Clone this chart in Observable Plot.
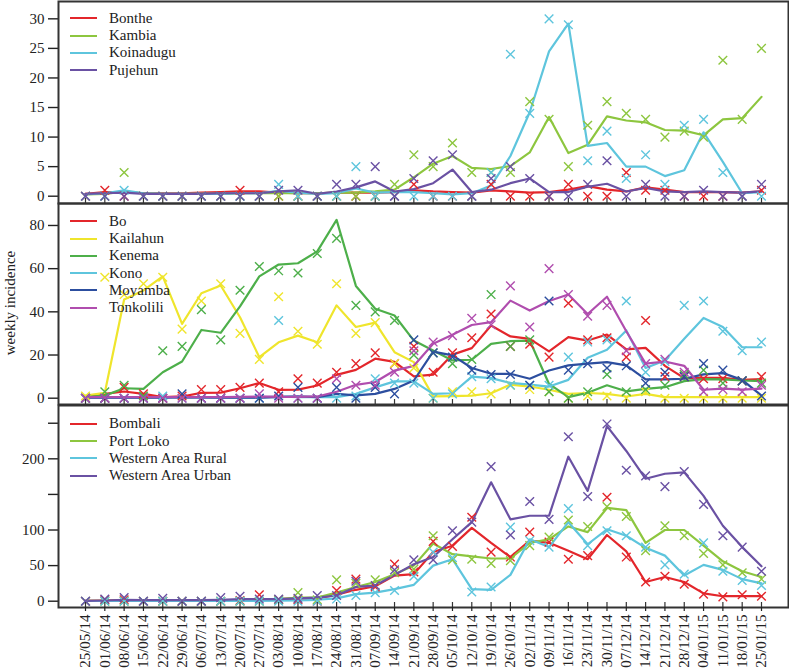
<!DOCTYPE html>
<html><head><meta charset="utf-8">
<script src="https://cdn.jsdelivr.net/npm/d3@7"></script>
<script src="https://cdn.jsdelivr.net/npm/@observablehq/plot@0.6"></script>
<style>
body{margin:0;background:#fff;}
#wrap{position:relative;width:789px;height:668px;overflow:hidden;font-family:"Liberation Serif","DejaVu Serif",serif;color:#222;}
#wrap svg{position:absolute;left:0;overflow:visible;}
.lg{position:absolute;font-size:15px;white-space:nowrap;}
.lg .row{position:absolute;left:0;height:18px;line-height:18px;}
.lg .sw{display:inline-block;width:27px;height:2px;vertical-align:middle;margin-right:12px;position:relative;top:-1px;}
#ylab{position:absolute;font-size:15px;left:10px;top:303px;transform:translate(-50%,-50%) rotate(-90deg);white-space:nowrap;}
</style></head>
<body><div id="wrap"></div>
<script>
const weekLabels = ["25/05/14","01/06/14","08/06/14","15/06/14","22/06/14","29/06/14","06/07/14","13/07/14","20/07/14","27/07/14","03/08/14","10/08/14","17/08/14","24/08/14","31/08/14","07/09/14","14/09/14","21/09/14","28/09/14","05/10/14","12/10/14","19/10/14","26/10/14","02/11/14","09/11/14","16/11/14","23/11/14","30/11/14","07/12/14","14/12/14","21/12/14","28/12/14","04/01/15","11/01/15","18/01/15","25/01/15"];

// Panel 1
const bontheObs = [0,1,0,0,0,0,0,0,1,0, 0,0,0,0,0,0,0,2,0,0, 0,2,0,0,0,2,0,0,4,1, 1,0,0,0,0,1];
const bontheFit = [0.4,0.7,0.7,0.5,0.5,0.5,0.6,0.7,0.8,0.8, 0.6,0.5,0.5,0.6,0.6,0.6,0.7,1.0,0.8,0.7, 0.6,1.0,0.8,0.6,0.7,1.1,1.7,1.1,0.8,1.5, 1.1,0.7,0.7,0.7,0.6,0.8];
const kambiaObs = [0,0,4,0,0,0,0,0,0,0, 0,0,0,0,0,0,2,7,5,9, 4,4,4,16,13,5,12,16,14,13, 10,11,10,23,13,25];
const kambiaFit = [0.3,0.4,0.8,0.5,0.4,0.4,0.4,0.4,0.5,0.5, 0.5,0.5,0.5,0.6,0.6,0.8,1.1,3.2,5.5,6.8, 4.8,4.6,5.1,7.4,13.4,7.3,8.7,13.5,12.8,12.5, 11.2,11.1,10.3,13.0,13.2,16.8];
const koinaduguObs = [0,0,1,0,0,0,0,0,0,0, 2,0,0,0,5,0,0,0,0,0, 0,4,24,14,30,29,6,11,3,7, 2,12,13,4,0,0];
const koinaduguFit = [0.3,0.5,1.0,0.5,0.4,0.4,0.4,0.4,0.5,0.5, 0.9,0.6,0.4,0.5,1.3,0.6,0.7,0.7,0.5,0.3, 0.5,1.8,6.8,14.2,24.5,29.2,8.5,9.0,5.0,5.0, 3.4,4.4,10.8,5.8,0.5,0.7];
const pujehunObs = [0,0,0,0,0,0,0,0,0,0, 1,1,0,2,2,5,0,3,6,7, 0,3,5,3,0,0,2,6,0,2, 0,0,1,0,0,2];
const pujehunFit = [0.4,0.5,0.6,0.4,0.4,0.4,0.4,0.5,0.5,0.5, 0.8,1.0,0.4,0.8,1.5,2.5,0.8,1.2,2.2,4.5, 0.7,1.1,2.2,3.0,0.7,0.7,1.6,2.1,0.8,1.4, 0.8,0.7,0.8,0.7,0.6,0.8];

// Panel 2
const boObs = [0,0,5,2,0,1,4,4,5,7, 3,9,7,12,16,21,16,24,12,21, 28,39,24,25,19,44,27,28,19,36, 10,10,9,9,8,10];
const boFit = [0.5,2,3.1,2,0.5,0.8,2.5,2.6,4.6,7, 3.9,4,5.9,10.8,13.1,18.3,16.8,10.1,10.9,20.2, 23.2,33.7,28.6,27.5,21.7,28.3,26.7,29.5,22.6,23.3, 15,9.3,9.4,9.4,8.5,8.8];
const kailahunObs = [1,56,48,53,56,32,45,53,30,18, 47,31,25,53,30,35,16,14,0,3, 3,2,6,4,3,0,1,1,0,3, 0,0,0,0,0,0];
const kailahunFit = [1.2,2.5,45.7,49.9,56.4,34.4,48.6,52.2,37.5,19, 25.9,29,25.9,43,33,35,21.3,16.7,0.8,1, 1.2,2.3,6.3,5.4,3.9,2,2.4,2,0.8,2, 0.5,0.5,0.5,0.5,0.5,0.5];
const kenemaObs = [0,3,6,1,22,24,41,27,50,61, 59,58,67,74,43,40,36,20,21,16, 18,48,24,27,3,0,3,11,3,4, 6,11,13,7,8,7];
const kenemaFit = [0.5,1.2,4.6,4.3,12,17,31.6,30.3,42.5,56.4, 61.9,62.5,68,82.6,52,41.4,38.3,26.7,22.1,17.5, 17.8,25.2,26.4,26.7,6.6,0.5,2.5,6,3.2,4.3, 5.1,7.9,8.8,8.7,8.2,7.9];
const konoObs = [0,0,0,0,1,0,0,0,0,0, 36,0,0,0,1,9,7,7,0,2, 10,9,6,6,6,19,26,27,45,12, 17,43,45,31,22,26];
const konoFit = [0.3,0.3,0.3,0.3,0.4,0.3,0.3,0.3,0.3,0.3, 0.8,0.5,0.5,0.5,2,5,7.8,7.8,2,2.3, 10,9.3,7.1,6.3,5.4,8.5,18.7,22.4,31.4,14, 17.5,27.5,37.2,33,23.6,23.6];
const moyambaObs = [0,0,0,0,0,2,0,0,0,0, 1,5,0,5,0,5,2,27,21,19, 13,11,11,6,45,13,16,14,15,7, 12,10,16,13,8,1];
const moyambaFit = [0.3,0.3,0.3,0.3,0.3,0.5,0.4,0.3,0.3,0.3, 0.5,0.8,0.5,2,1.3,2,4.3,8.2,21.6,19.8, 14,11.3,11.3,9,12.8,15.2,16,16.7,15.2,8.7, 8.7,9,11,11.6,8.5,1.2];
const tonkoliliObs = [0,0,0,0,0,0,0,0,0,2, 0,0,0,9,6,6,12,22,26,29, 37,34,52,33,60,48,38,43,22,16, 18,12,3,4,3,6];
const tonkoliliFit = [0.5,0.5,0.5,0.5,0.5,0.5,0.5,0.5,0.6,0.8, 0.6,0.6,0.8,3,6.2,7.5,12.8,15,25.2,29.4, 33.9,35.2,45.2,40.6,45,48,39,47,31,16, 17,15,3.9,4.4,4,4.4];

// Panel 3
const bombaliObs = [0,2,2,0,0,0,0,0,1,9, 2,2,0,15,31,20,52,41,84,77, 118,69,62,97,83,59,64,146,62,27, 35,24,10,6,9,7];
const bombaliFit = [0.5,1,1.5,1,0.8,0.8,0.8,0.8,1.5,2.5, 3,4,4,9,16,21,36,38,69,78, 103,82,62,85,82,71,59,93,70,27, 34,27,11,7,7,7];
const portLokoObs = [0,0,0,0,0,0,0,0,0,0, 2,12,2,30,25,30,40,45,92,58, 59,53,57,78,90,114,105,133,119,71, 106,92,67,51,40,31];
const portLokoFit = [0.5,0.5,0.8,0.8,0.8,0.8,1,1,1.5,2, 3,5,5,12,20,27,38,50,81,66, 63,60,60,82,87,105,97,131,128,82, 100,100,78,56,42,34];
const warObs = [0,0,0,0,0,0,0,0,0,0, 0,0,0,3,8,12,15,35,69,61, 13,20,104,85,76,130,78,99,92,76, 51,38,82,42,29,22];
const warFit = [0.3,0.3,0.3,0.3,0.3,0.3,0.3,0.3,0.5,0.5, 0.8,1,2,4,10,12,17,23,50,59, 17,16,37,87,76,111,80,101,92,75, 64,36,51,44,31,25];
const wauObs = [0,3,5,0,4,0,0,5,7,3, 3,4,8,8,28,22,44,58,58,99, 111,189,93,140,115,231,147,249,184,176, 161,182,136,92,76,42];
const wauFit = [0.5,1,2,1.5,1.5,1.5,1.5,2,3,3, 3,4,5,8,20,22,37,52,62,87, 111,167,115,120,120,203,155,246,211,172, 179,181,148,106,76,49];

const yTicks1 = [0,5,10,15,20,25,30], yLabels1 = ["0","5","10","15","20","25","30"];
const yTicks2 = [0,20,40,60,80], yLabels2 = ["0","20","40","60","80"];
const yTicks3 = [0,50,100,150,200,250], yLabels3 = ["0","50","100","","200",""];

const RED="#e3262b", YG="#8dc63f", LB="#5ec5dd", PUR="#6a51a3", YEL="#efe52c", GRN="#4daf4a", DB="#2c4e9f", MAG="#b04dae";

const panels = [
  {top:0, height:205, mt:1, mb:2, yDomain:[-1.235, 32.93], yTicks:yTicks1, yLabels:yLabels1, showX:false, lgTop:17.7,
   series:[{name:"Bonthe",color:RED,obs:bontheObs,fit:bontheFit},{name:"Kambia",color:YG,obs:kambiaObs,fit:kambiaFit},
           {name:"Koinadugu",color:LB,obs:koinaduguObs,fit:koinaduguFit},{name:"Pujehun",color:PUR,obs:pujehunObs,fit:pujehunFit}]},
  {top:203, height:202, mt:0, mb:1, yDomain:[-2.92, 90.18], yTicks:yTicks2, yLabels:yLabels2, showX:false, lgTop:220.7,
   series:[{name:"Bo",color:RED,obs:boObs,fit:boFit},{name:"Kailahun",color:YEL,obs:kailahunObs,fit:kailahunFit},
           {name:"Kenema",color:GRN,obs:kenemaObs,fit:kenemaFit},{name:"Kono",color:LB,obs:konoObs,fit:konoFit},
           {name:"Moyamba",color:DB,obs:moyambaObs,fit:moyambaFit},{name:"Tonkolili",color:MAG,obs:tonkoliliObs,fit:tonkoliliFit}]},
  {top:405, height:263, mt:0, mb:61, yDomain:[-8.85, 274.9], yTicks:yTicks3, yLabels:yLabels3, showX:true, lgTop:423.3,
   series:[{name:"Bombali",color:RED,obs:bombaliObs,fit:bombaliFit},{name:"Port Loko",color:YG,obs:portLokoObs,fit:portLokoFit},
           {name:"Western Area Rural",color:LB,obs:warObs,fit:warFit},{name:"Western Area Urban",color:PUR,obs:wauObs,fit:wauFit}]}
];

const FONT = "'Liberation Serif','DejaVu Serif',serif";
const wrap = document.getElementById("wrap");
const weekIdx = d3.range(weekLabels.length);

for (const p of panels) {
  const names = p.series.map(s => s.name);
  const colors = p.series.map(s => s.color);
  const rows = p.series.flatMap(s => s.obs.map((o, i) => ({week: i, name: s.name, obs: o, fit: s.fit[i]})));
  const frameH = p.height - p.mt - p.mb;
  const labelMap = new Map(p.yTicks.map((t, i) => [t, p.yLabels[i]]));
  const marks = [
    Plot.line(rows, {x: "week", y: "fit", z: "name", stroke: "name", strokeWidth: 2.2}),
    Plot.dot(rows, {x: "week", y: "obs", stroke: "name", symbol: "times", r: 4, strokeWidth: 1.4}),
    Plot.tickX(weekIdx, {x: d => d, stroke: "#333", strokeWidth: 1.2, insetTop: frameH - 5}),
    Plot.axisY({ticks: p.yTicks, tickFormat: d => labelMap.get(d), tickSize: 10, tickPadding: 4, label: null, strokeWidth: 1.4, fontFamily: FONT}),
    Plot.frame({stroke: "#333", strokeWidth: 2})
  ];
  if (p.showX) marks.push(Plot.axisX({ticks: weekIdx, tickFormat: i => weekLabels[i], tickRotate: -90, tickSize: 4, tickPadding: 3, label: null, strokeWidth: 1.2, fontFamily: FONT}));
  const svg = Plot.plot({
    width: 789, height: p.height,
    marginLeft: 58, marginRight: 1, marginTop: p.mt, marginBottom: p.mb,
    x: {domain: [-1.398, 36.398], axis: p.showX ? undefined : null},
    y: {domain: p.yDomain},
    color: {domain: names, range: colors},
    style: {fontFamily: FONT, fontSize: "15px", color: "#222", background: "transparent", overflow: "visible"},
    marks
  });
  svg.style.top = p.top + "px";
  wrap.appendChild(svg);

  const lg = document.createElement("div");
  lg.className = "lg";
  lg.style.left = "70px";
  lg.style.top = "0px";
  p.series.forEach((s, i) => {
    const row = document.createElement("div");
    row.className = "row";
    row.style.top = (p.lgTop + i * 17.3 - 9) + "px";
    const sw = document.createElement("span");
    sw.className = "sw";
    sw.style.background = s.color;
    row.appendChild(sw);
    row.appendChild(document.createTextNode(s.name));
    lg.appendChild(row);
  });
  wrap.appendChild(lg);
}
const yl = document.createElement("div");
yl.id = "ylab";
yl.textContent = "weekly incidence";
wrap.appendChild(yl);
</script>
</body></html>
